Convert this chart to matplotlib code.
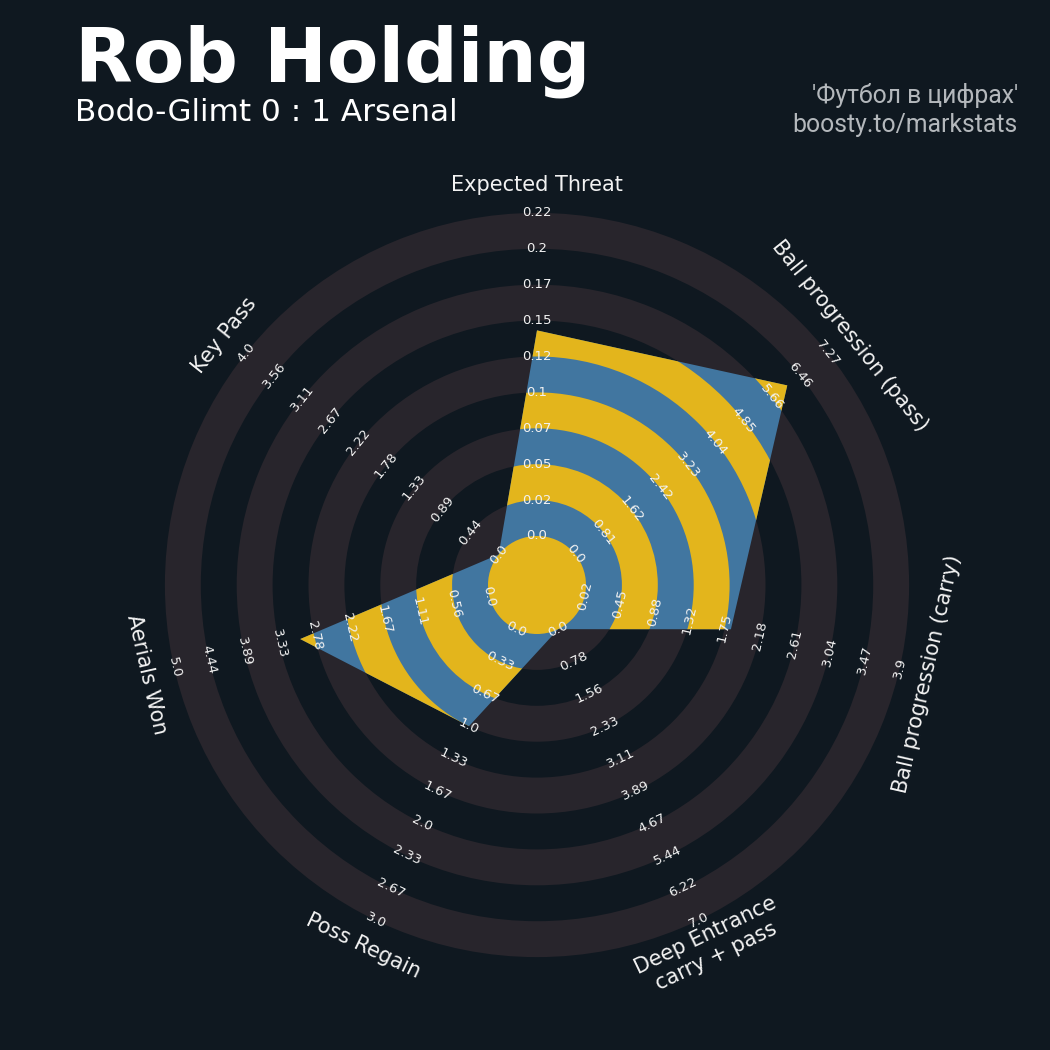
import numpy as np
import matplotlib
matplotlib.use('Agg')
import matplotlib.pyplot as plt
from matplotlib.patches import Wedge, Circle, Polygon

# ---------------- data ----------------
params = ['Expected Threat', 'Ball progression (pass)', 'Ball progression (carry)',
          'Deep Entrance\ncarry + pass', 'Poss Regain', 'Aerials Won', 'Key Pass']
low = [0.0, 0.0, 0.02, 0.0, 0.0, 0.0, 0.0]
high = [0.22, 7.27, 3.9, 7.0, 3.0, 5.0, 4.0]
values = [0.14, 6.1, 1.82, 0.0, 1.0, 3.0, 0.0]

labels_xt = ['0.0', '0.02', '0.05', '0.07', '0.1', '0.12', '0.15', '0.17', '0.2', '0.22']
labels_pass = ['0.0', '0.81', '1.62', '2.42', '3.23', '4.04', '4.85', '5.66', '6.46', '7.27']
labels_carry = ['0.02', '0.45', '0.88', '1.32', '1.75', '2.18', '2.61', '3.04', '3.47', '3.9']
labels_deep = ['0.0', '0.78', '1.56', '2.33', '3.11', '3.89', '4.67', '5.44', '6.22', '7.0']
labels_poss = ['0.0', '0.33', '0.67', '1.0', '1.33', '1.67', '2.0', '2.33', '2.67', '3.0']
labels_aerial = ['0.0', '0.56', '1.11', '1.67', '2.22', '2.78', '3.33', '3.89', '4.44', '5.0']
labels_key = ['0.0', '0.44', '0.89', '1.33', '1.78', '2.22', '2.67', '3.11', '3.56', '4.0']
range_labels = [labels_xt, labels_pass, labels_carry, labels_deep,
                labels_poss, labels_aerial, labels_key]

title = 'Rob Holding'
subtitle = 'Bodo-Glimt 0 : 1 Arsenal'
credit1 = "'Футбол в цифрах'"
credit2 = 'boosty.to/markstats'

# ---------------- style ----------------
BG = '#0f1820'
RING_GREY = '#28252c'
BLUE = '#4176a0'
YELLOW = '#e3b51c'
TXT = '#f2f2f2'
CREDIT = '#b4b8bc'

W = H = 1050
DPI = 100
CX, CY = 537, 585
PX_PER_UNIT = 35.9
CENTER_R = 1.365
RING_W = 1.0
N_RINGS = 9
MAX_R = CENTER_R + N_RINGS * RING_W
LABEL_R = 11.15

fig = plt.figure(figsize=(W / DPI, H / DPI), dpi=DPI, facecolor=BG)
ax = fig.add_axes([0, 0, 1, 1])
ax.set_facecolor(BG)
ax.set_xlim(-CX / PX_PER_UNIT, (W - CX) / PX_PER_UNIT)
ax.set_ylim(-(H - CY) / PX_PER_UNIT, CY / PX_PER_UNIT)
ax.axis('off')

n = len(params)
theta = 2 * np.pi * np.arange(n) / n
sin_t, cos_t = np.sin(theta), np.cos(theta)
deg = np.degrees(theta)
rot = -deg.copy()
flip = (deg > 90) & (deg < 270)
rot[flip] = 180 - deg[flip]

# background rings
for k in range(0, N_RINGS, 2):
    r_out = CENTER_R + (k + 1) * RING_W
    ax.add_patch(Wedge((0, 0), r_out, 0, 360, width=RING_W,
                       facecolor=RING_GREY, edgecolor='none', zorder=1))

# radar polygon
lo = np.array(low); hi = np.array(high); v = np.array(values)
frac = (v - lo) / (hi - lo)
radius = CENTER_R + frac * (MAX_R - CENTER_R)
poly = Polygon(np.column_stack([radius * sin_t, radius * cos_t]), closed=True,
               facecolor=BLUE, edgecolor='none', zorder=2)
ax.add_patch(poly)

c = Circle((0, 0), CENTER_R, facecolor=YELLOW, edgecolor='none', zorder=3)
ax.add_patch(c)
c.set_clip_path(poly)
for k in range(1, N_RINGS, 2):
    r_out = CENTER_R + (k + 1) * RING_W
    wdg = Wedge((0, 0), r_out, 0, 360, width=RING_W,
                facecolor=YELLOW, edgecolor='none', zorder=3)
    ax.add_patch(wdg)
    wdg.set_clip_path(poly)

# range labels
for i in range(n):
    for k, lab in enumerate(range_labels[i]):
        r = CENTER_R + k * RING_W
        ax.text(r * sin_t[i], r * cos_t[i], lab, rotation=rot[i], rotation_mode='anchor',
                ha='center', va='center', fontsize=9.5, color=TXT, zorder=5)

# parameter labels
for i in range(n):
    ax.text(LABEL_R * sin_t[i], LABEL_R * cos_t[i], params[i], rotation=rot[i],
            rotation_mode='anchor', ha='center', va='center', fontsize=15,
            color=TXT, zorder=5, multialignment='center')

# titles
fig.text(75 / W, 1 - 82 / H, title, fontsize=54, fontweight='bold', color='white',
         ha='left', va='baseline', family='DejaVu Sans')
fig.text(75 / W, 1 - 121 / H, subtitle, fontsize=22.4, color='white',
         ha='left', va='baseline', family='DejaVu Sans')
fig.text(1018 / W, 1 - 103 / H, credit1, fontsize=17.8, color=CREDIT,
         ha='right', va='baseline', family=['Roboto', 'DejaVu Sans'])
fig.text(1018 / W, 1 - 132 / H, credit2, fontsize=17.8, color=CREDIT,
         ha='right', va='baseline', family=['Roboto', 'DejaVu Sans'])

fig.savefig('out.png', dpi=DPI, facecolor=BG)
